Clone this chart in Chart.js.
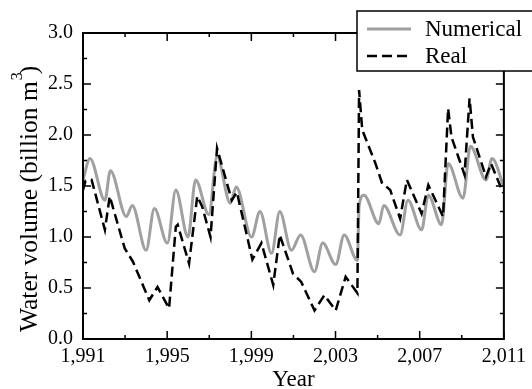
<!DOCTYPE html>
<html>
<head>
<meta charset="utf-8">
<script src="https://cdn.jsdelivr.net/npm/chart.js@4.4.1/dist/chart.umd.min.js"></script>
<style>
  html, body { margin: 0; padding: 0; background: #fff; }
  #wrap { width: 532px; height: 389px; position: relative; }
</style>
</head>
<body>
<div id="wrap"><canvas id="chart"></canvas></div>
<script>
// Numerical (model) water volume, billion m3
const numYears = [1991.0, 1991.33, 1992.04, 1992.30, 1993.06, 1993.34, 1994.0, 1994.39, 1995.01, 1995.41,
  1995.99, 1996.35, 1996.98, 1997.37, 1998.0, 1998.28, 1999.01, 1999.41, 1999.96, 2000.35,
  2000.90, 2001.34, 2002.0, 2002.39, 2003.01, 2003.41, 2004.04, 2004.12, 2004.35, 2005.06,
  2005.29, 2006.07, 2006.44, 2007.09, 2007.41, 2008.04, 2008.35, 2009.06, 2009.41, 2010.15,
  2010.44, 2011.0];
const numValues = [1.56, 1.77, 1.36, 1.65, 1.20, 1.31, 0.87, 1.28, 0.94, 1.46,
  1.00, 1.56, 1.22, 1.79, 1.33, 1.49, 1.00, 1.25, 0.84, 1.25,
  0.87, 1.02, 0.66, 0.94, 0.73, 1.02, 0.77, 1.30, 1.41, 1.13,
  1.31, 1.02, 1.36, 1.07, 1.41, 1.12, 1.72, 1.38, 1.89, 1.56,
  1.77, 1.49];

// Real (observed) water volume
const realYears = [1991.0, 1991.12, 1991.41, 1992.04, 1992.27, 1992.98, 1993.37, 1994.15, 1994.54, 1995.09,
  1995.41, 1995.50, 1996.04, 1996.43, 1996.66, 1997.06, 1997.37, 1998.07, 1998.31, 1999.05,
  1999.48, 2000.04, 2000.35, 2000.98, 2001.37, 2002.0, 2002.47, 2003.01, 2003.48, 2004.04,
  2004.12, 2004.27, 2004.90, 2005.21, 2005.60, 2006.07, 2006.39, 2007.09, 2007.41, 2008.11,
  2008.35, 2008.51, 2009.13, 2009.37, 2009.53, 2010.15, 2010.39, 2010.97];
const realValues = [1.46, 1.55, 1.56, 1.07, 1.40, 0.89, 0.76, 0.38, 0.51, 0.30,
  1.10, 1.12, 0.74, 1.40, 1.30, 1.00, 1.87, 1.36, 1.44, 0.78,
  0.94, 0.53, 1.02, 0.64, 0.56, 0.28, 0.43, 0.28, 0.61, 0.45,
  2.44, 2.05, 1.72, 1.53, 1.46, 1.18, 1.56, 1.23, 1.51, 1.20,
  2.26, 1.98, 1.61, 2.36, 1.98, 1.59, 1.72, 1.43];

const xTicks = [1991, 1995, 1999, 2003, 2007, 2011];
const xMinor = [1993, 1997, 2001, 2005, 2009];
const yTicks = [0, 0.5, 1.0, 1.5, 2.0, 2.5, 3.0];
const yMinor = [0.25, 0.75, 1.25, 1.75, 2.25, 2.75];

const SERIF = '"Liberation Serif", "Times New Roman", serif';

const toPoints = (xs, ys) => xs.map((x, i) => ({ x: x, y: ys[i] }));

// frame + inward ticks on all four sides
const framePlugin = {
  id: 'frame',
  afterDatasetsDraw(chart) {
    const { ctx, chartArea: { left, right, top, bottom }, scales: { x, y } } = chart;
    ctx.save();
    ctx.strokeStyle = '#000';
    ctx.lineWidth = 1.5;
    ctx.beginPath();
    const tickX = (v, len) => {
      const px = x.getPixelForValue(v);
      ctx.moveTo(px, bottom); ctx.lineTo(px, bottom - len);
      ctx.moveTo(px, top); ctx.lineTo(px, top + len);
    };
    const tickY = (v, len) => {
      const py = y.getPixelForValue(v);
      ctx.moveTo(left, py); ctx.lineTo(left + len, py);
      ctx.moveTo(right, py); ctx.lineTo(right - len, py);
    };
    xTicks.forEach(v => tickX(v, 8));
    xMinor.forEach(v => tickX(v, 4));
    yTicks.forEach(v => tickY(v, 8));
    yMinor.forEach(v => tickY(v, 4));
    ctx.stroke();
    ctx.lineWidth = 2;
    ctx.strokeRect(left, top, right - left, bottom - top);
    ctx.restore();
  }
};

// y axis title with a superscript 3
const yTitlePlugin = {
  id: 'ytitle',
  afterDraw(chart) {
    const ctx = chart.ctx;
    ctx.save();
    ctx.translate(37, 0);
    ctx.rotate(-Math.PI / 2);
    ctx.fillStyle = '#000';
    ctx.textBaseline = 'alphabetic';
    ctx.textAlign = 'left';
    ctx.font = '25.5px ' + SERIF;
    let pos = -332;
    const main = 'Water volume (billion m';
    ctx.fillText(main, pos, 0);
    pos += ctx.measureText(main).width + 1;
    ctx.font = '16px ' + SERIF;
    ctx.fillText('3', pos, -15);
    pos += ctx.measureText('3').width - 2;
    ctx.font = '25.5px ' + SERIF;
    ctx.fillText(')', pos, 0);
    ctx.restore();
  }
};

// boxed legend in the top right corner
const legendPlugin = {
  id: 'boxlegend',
  afterDraw(chart) {
    const ctx = chart.ctx;
    const ds = chart.data.datasets;
    ctx.save();
    ctx.fillStyle = '#fff';
    ctx.fillRect(357, 11, 200, 60);
    ctx.strokeStyle = '#000';
    ctx.lineWidth = 1.5;
    ctx.strokeRect(357, 11, 200, 60);
    const rows = [29, 56];
    ds.forEach((d, i) => {
      ctx.beginPath();
      ctx.strokeStyle = d.borderColor;
      ctx.lineWidth = d.borderWidth;
      ctx.setLineDash(d.borderDash || []);
      ctx.moveTo(367, rows[i]);
      ctx.lineTo(411, rows[i]);
      ctx.stroke();
      ctx.setLineDash([]);
      ctx.fillStyle = '#000';
      ctx.font = '23px ' + SERIF;
      ctx.textBaseline = 'middle';
      ctx.fillText(d.label, 425, rows[i] + 1);
    });
    ctx.restore();
  }
};

new Chart(document.getElementById('chart'), {
  type: 'line',
  data: {
    datasets: [
      {
        label: 'Numerical',
        data: toPoints(numYears, numValues),
        borderColor: '#a0a0a0',
        borderWidth: 3,
        pointRadius: 0,
        cubicInterpolationMode: 'monotone',
        order: 1
      },
      {
        label: 'Real',
        data: toPoints(realYears, realValues),
        borderColor: '#000',
        borderWidth: 2.5,
        borderDash: [10, 5],
        pointRadius: 0,
        tension: 0,
        order: 0
      }
    ]
  },
  options: {
    responsive: true,
    maintainAspectRatio: false,
    animation: false,
    devicePixelRatio: 1,
    layout: { padding: { top: 33, right: 24, left: 0, bottom: 0 } },
    plugins: {
      legend: { display: false },
      tooltip: { enabled: false }
    },
    scales: {
      x: {
        type: 'linear',
        min: 1991,
        max: 2011,
        afterBuildTicks: s => { s.ticks = xTicks.map(v => ({ value: v })); },
        afterFit: s => { s.height = 50; },
        grid: { display: false, drawTicks: false, tickLength: 0 },
        border: { display: false },
        ticks: {
          color: '#000',
          font: { family: SERIF, size: 20 },
          padding: 6,
          maxRotation: 0,
          callback: v => v.toLocaleString('en-US')
        },
        title: {
          display: true,
          text: 'Year',
          color: '#000',
          font: { family: SERIF, size: 23, lineHeight: 1 },
          padding: { top: 0, bottom: -2 }
        }
      },
      y: {
        min: 0,
        max: 3,
        afterBuildTicks: s => { s.ticks = yTicks.map(v => ({ value: v })); },
        afterFit: s => { s.width = 83; },
        grid: { display: false, drawTicks: false, tickLength: 0 },
        border: { display: false },
        ticks: {
          color: '#000',
          font: { family: SERIF, size: 20 },
          padding: 10,
          callback: v => v.toFixed(1)
        }
      }
    }
  },
  plugins: [framePlugin, yTitlePlugin, legendPlugin]
});
</script>
</body>
</html>
